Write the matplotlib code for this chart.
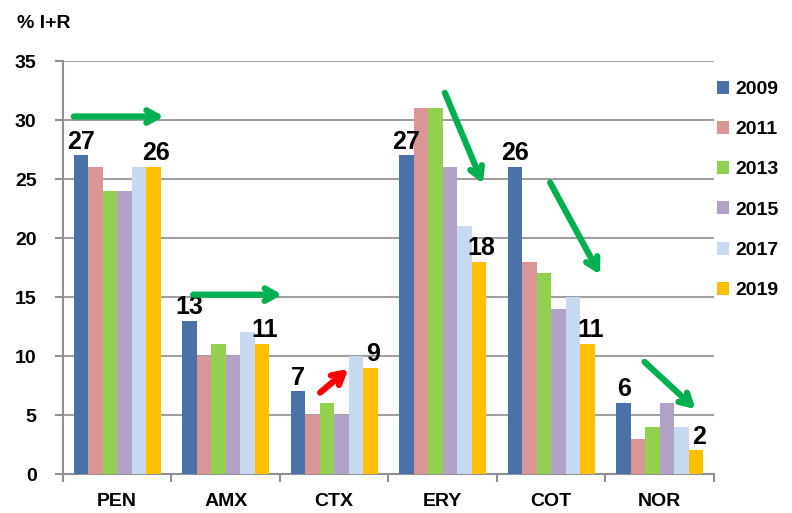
import matplotlib.pyplot as plt
import numpy as np

plt.rcParams['font.family'] = ['Liberation Sans', 'DejaVu Sans']

categories = ['PEN', 'AMX', 'CTX', 'ERY', 'COT', 'NOR']
years = ['2009', '2011', '2013', '2015', '2017', '2019']
values = {
    '2009': [27, 13, 7, 27, 26, 6],
    '2011': [26, 10, 5, 31, 18, 3],
    '2013': [24, 11, 6, 31, 17, 4],
    '2015': [24, 10, 5, 26, 14, 6],
    '2017': [26, 12, 10, 21, 15, 4],
    '2019': [26, 11, 9, 18, 11, 2],
}
colors = ['#4A72A8', '#DA9694', '#92D050', '#B2A2C7', '#C6D9F1', '#FFC000']

# trend arrows (start, end) in data coords, colour
arrows = [
    ((-0.40, 30.3), (0.43, 30.3), '#00B050'),
    ((0.70, 15.2), (1.52, 15.2), '#00B050'),
    ((1.87, 6.9), (2.13, 8.9), '#FF0000'),
    ((3.02, 32.3), (3.37, 24.6), '#00B050'),
    ((3.99, 24.7), (4.45, 16.9), '#00B050'),
    ((4.86, 9.5), (5.33, 5.5), '#00B050'),
]

fig = plt.figure(figsize=(7.92, 5.13), dpi=100)
ax = fig.add_axes([0.0795, 0.076, 0.822, 0.805])

x = np.arange(len(categories))
w = 0.8 / len(years)
for i, (yr, c) in enumerate(zip(years, colors)):
    ax.bar(x - 0.4 + w * (i + 0.5), values[yr], width=w, color=c,
           edgecolor='none', label=yr, zorder=3)

# labels on first and last year
first = values[years[0]]
last = values[years[-1]]
for j in range(len(categories)):
    ax.text(x[j] - 0.4 + w * 0.5, first[j] + 0.15, str(first[j]), ha='center',
            va='bottom', fontsize=18, fontweight='bold', zorder=5)
    ax.text(x[j] - 0.4 + w * 5.7, last[j] + 0.15, str(last[j]), ha='center',
            va='bottom', fontsize=18, fontweight='bold', zorder=5)

for (x0, y0), (x1, y1), c in arrows:
    ax.annotate('', xy=(x1, y1), xytext=(x0, y0),
                arrowprops=dict(arrowstyle='->,head_length=0.8,head_width=0.45',
                                color=c, lw=4.5, shrinkA=0, shrinkB=0),
                zorder=6)

ax.set_xlim(-0.5, len(categories) - 0.5)
ax.set_ylim(0, 35)
ax.set_yticks(np.arange(0, 36, 5))
ax.yaxis.grid(True, color='#A0A0A0', linewidth=1.5, zorder=0)
ax.set_axisbelow(True)

ax.set_xticks(x)
ax.set_xticklabels(categories, fontsize=14, fontweight='bold')
ax.tick_params(axis='x', which='major', length=0, pad=14)
ax.set_xticks(np.arange(-0.5, len(categories), 1), minor=True)
ax.tick_params(axis='x', which='minor', length=6, width=1.5, color='#909090')
ax.tick_params(axis='y', length=6, width=1.5, color='#909090', pad=13, labelsize=14)
for lab in ax.get_yticklabels():
    lab.set_fontweight('bold')

for s in ['top', 'right']:
    ax.spines[s].set_visible(False)
for s in ['left', 'bottom']:
    ax.spines[s].set_color('#909090')
    ax.spines[s].set_linewidth(1.5)

fig.text(0.022, 0.955, '% I+R', fontsize=14, fontweight='bold', va='center')

fig.legend(loc='upper left', bbox_to_anchor=(0.905, 0.843), frameon=False,
           prop={'size': 14, 'weight': 'bold'}, handlelength=0.65,
           handleheight=0.65, handletextpad=0.3, labelspacing=1.18,
           borderaxespad=0, borderpad=0)

fig.savefig('out.png', dpi=100)
